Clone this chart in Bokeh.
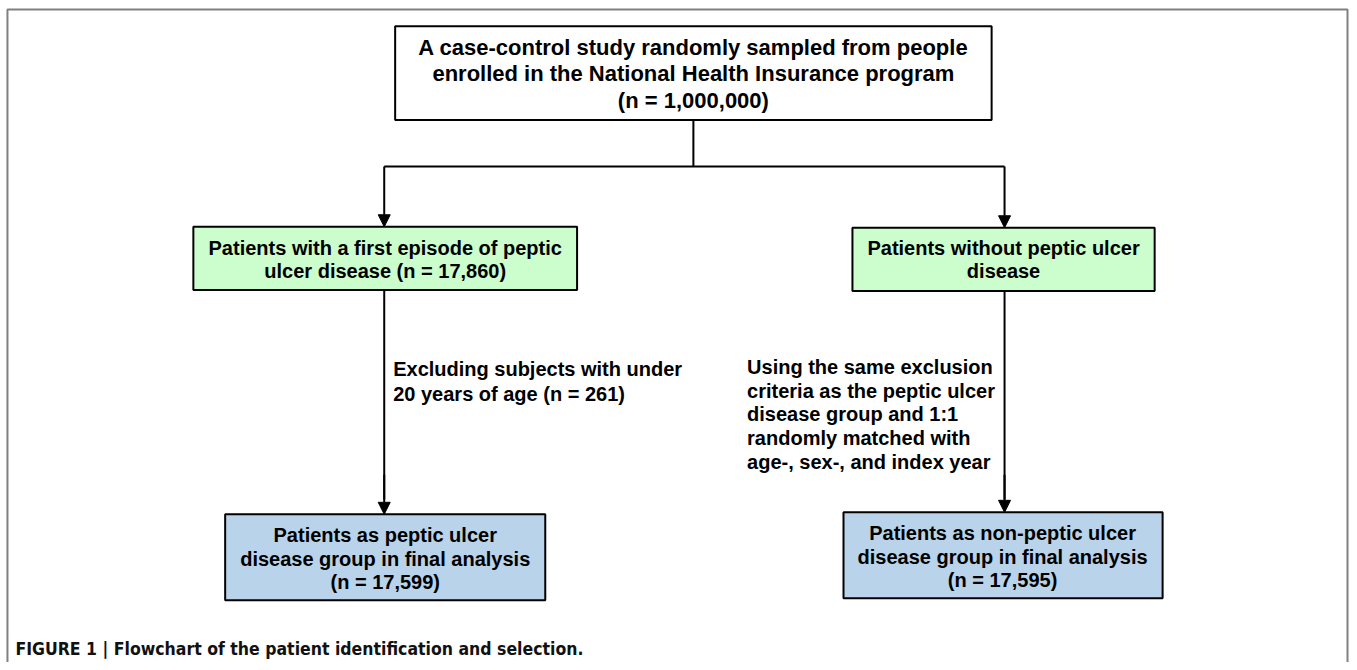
from bokeh.plotting import figure
from bokeh.models import Range1d, Arrow, NormalHead
from bokeh.core.properties import value
from bokeh.embed import file_html
from bokeh.resources import INLINE

# ---- content ----
top_text = ["A case-control study randomly sampled from people",
            "enrolled in the National Health Insurance program",
            "(n = 1,000,000)"]
left_mid_text = ["Patients with a first episode of peptic",
                 "ulcer disease (n = 17,860)"]
right_mid_text = ["Patients without peptic ulcer", "disease"]
left_note = ["Excluding subjects with under", "20 years of age (n = 261)"]
right_note = ["Using the same exclusion", "criteria as the peptic ulcer",
              "disease group and 1:1", "randomly matched with",
              "age-, sex-, and index year"]
left_bot_text = ["Patients as peptic ulcer", "disease group in final analysis",
                 "(n = 17,599)"]
right_bot_text = ["Patients as non-peptic ulcer", "disease group in final analysis",
                  "(n = 17,595)"]
caption = "FIGURE 1 | Flowchart of the patient identification and selection."

# ---- layout (pixel coordinates) ----
W, H = 1349, 662
p = figure(width=W, height=H, output_backend="svg", toolbar_location=None,
           x_range=Range1d(0, 1357), y_range=Range1d(670, 0),
           min_border=0)
p.axis.visible = False
p.grid.visible = False
p.outline_line_color = None
p.background_fill_color = "white"

FONT = value("Liberation Sans")
GREEN = "#ccfdcc"
BLUE = "#b9d3ea"

# outer frame (open at bottom)
p.line([7, 7, 1355, 1355], [672, 9, 9, 672], line_color="#808080", line_width=2)

def box(x0, x1, y0, y1, fill):
    p.quad(left=x0, right=x1, top=y0, bottom=y1, fill_color=fill,
           line_color="black", line_width=2)

def lines(xc, ys, texts, align="center", size="20px"):
    p.text(x=[xc] * len(texts), y=ys, text=texts, text_font=FONT,
           text_font_style="bold", text_font_size=size, text_align=align,
           text_baseline="middle", text_color="black")

box(397, 997, 26, 121, "white")
lines(697, [48, 74, 101], top_text, size="22px")

box(194, 580, 229, 293, GREEN)
lines(387, [250, 274], left_mid_text)
box(857, 1161, 230, 294, GREEN)
lines(1009, [250, 274], right_mid_text)

box(226, 548, 520, 607, BLUE)
lines(387, [541, 565, 589], left_bot_text)
box(848, 1169, 518, 605, BLUE)
lines(1008, [539, 563, 587], right_bot_text)

lines(395, [373, 398], left_note, align="left")
lines(751, [371, 395, 419, 443, 467], right_note, align="left")

# connectors
p.line([697, 697], [121, 168], line_color="black", line_width=2)
p.line([386, 1010], [168, 168], line_color="black", line_width=2)
p.line([386, 386], [293, 505], line_color="black", line_width=2)
p.line([1010, 1010], [294, 505], line_color="black", line_width=2)
for (x, y0, y1) in [(386, 168, 229), (1010, 168, 230), (386, 480, 520), (1010, 480, 518)]:
    p.add_layout(Arrow(x_start=x, y_start=y0, x_end=x, y_end=y1, line_color="black",
                       line_width=2,
                       end=NormalHead(size=12, fill_color="black", line_color="black", line_width=1)))

p.text(x=[15], y=[656], text=[caption], text_font=value("DejaVu Sans Condensed"),
       text_font_style="bold", text_font_size="17.5px", text_align="left",
       text_baseline="middle", text_color="#111111")

open("out.html", "w").write(file_html(p, INLINE))
